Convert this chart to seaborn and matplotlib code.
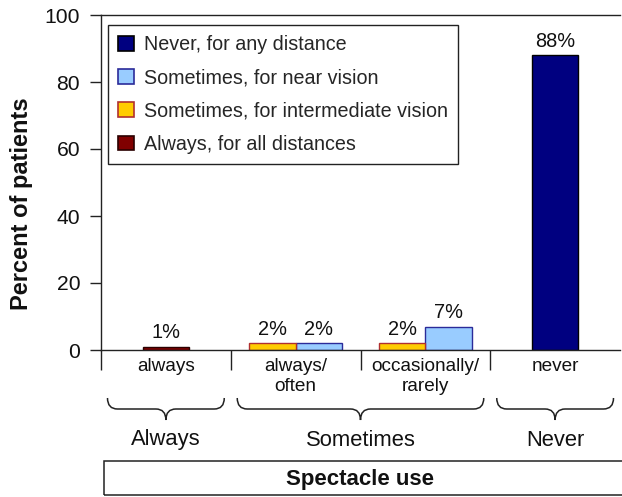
import matplotlib
matplotlib.use("Agg")
import matplotlib.pyplot as plt
import matplotlib.colors as mcolors
import pandas as pd
import seaborn as sns
from matplotlib.patches import Patch, Rectangle, PathPatch
from matplotlib.path import Path
from matplotlib.transforms import blended_transform_factory

# Spectacle-use categories on the x axis and their grouping
usage_levels = ["always", "always/\noften", "occasionally/\nrarely", "never"]
groups = ["Always", "Sometimes", "Never"]
group_members = [[0], [1, 2], [3]]

# Legend series (in legend order)
series_names = [
    "Never, for any distance",
    "Sometimes, for near vision",
    "Sometimes, for intermediate vision",
    "Always, for all distances",
]

# One entry per bar: usage level index, series index, percent of patients
bar_level = [0, 1, 1, 2, 2, 3]
bar_series = [3, 2, 1, 2, 1, 0]
bar_values = [1, 2, 2, 2, 7, 88]

sns.set_theme(style="ticks")
plt.rcParams["font.family"] = ["Liberation Sans", "DejaVu Sans"]

fill = ["#000080", "#99CCFF", "#FFCC00", "#800000"]
edge = ["#000000", "#2B2B99", "#B03030", "#2A0000"]
offset = [0.0, 0.18, -0.18, 0.0]
line_col = "#222222"

W, H = 622, 497
fig = plt.figure(figsize=(W / 100, H / 100), dpi=100)
ax = fig.add_axes([101 / W, 147 / H, 519 / W, 335 / H])

df = pd.DataFrame({
    "pos": [bar_level[i] + offset[s] for i, s in enumerate(bar_series)],
    "value": bar_values,
    "series": [series_names[s] for s in bar_series],
})

sns.barplot(data=df, x="pos", y="value", hue="series", hue_order=series_names,
            palette=fill, native_scale=True, dodge=False, width=1.0,
            saturation=1, errorbar=None, legend=False, ax=ax, linewidth=1.0)

hex_to_idx = {mcolors.to_hex(c): i for i, c in enumerate(fill)}
for p in ax.patches:
    idx = hex_to_idx.get(mcolors.to_hex(p.get_facecolor()))
    if idx is not None:
        p.set_edgecolor(edge[idx])
        p.set_linewidth(1.0)

# value labels above each bar
for pos, val in zip(df["pos"], df["value"]):
    ax.annotate(f"{val}%", (pos, val), xytext=(0, 3), textcoords="offset points",
                ha="center", va="bottom", fontsize=14.4, color="#111111")

ax.set_xlim(-0.5, 3.5)
ax.set_ylim(0, 100)
ax.set_yticks(range(0, 101, 20))
ax.set_xticks(range(len(usage_levels)))
ax.set_xticklabels(usage_levels, fontsize=13.7, linespacing=1.25)
ax.set_xticks([-0.5, 0.5, 1.5, 2.5], minor=True)
ax.tick_params(axis="x", which="major", length=0, pad=5.5, colors="#111111")
ax.tick_params(axis="x", which="minor", length=14.4, width=1.0, color=line_col)
ax.tick_params(axis="y", length=8, width=1.0, pad=7, labelsize=15.2,
               color=line_col, labelcolor="#111111")
ax.set_xlabel("")

for side in ["left", "bottom", "top"]:
    ax.spines[side].set_color(line_col)
    ax.spines[side].set_linewidth(1.0)
ax.spines["right"].set_visible(False)

ax.set_ylabel("Percent of patients", fontsize=17, fontweight="bold", va="center",
              color="#111111")
ax.yaxis.set_label_coords(-0.154, 0.436)

handles = [Patch(facecolor=fill[i], edgecolor=edge[i], linewidth=1.2, label=series_names[i])
           for i in range(len(series_names))]
leg = ax.legend(handles=handles, loc="upper left", bbox_to_anchor=(7 / 519, 325 / 335),
                borderaxespad=0, frameon=True, fancybox=False, edgecolor=line_col,
                framealpha=1, fontsize=14.2, handlelength=0.78, handleheight=0.78,
                handletextpad=0.5, labelspacing=0.72, borderpad=0.52)
leg.get_frame().set_linewidth(1.0)

# curly braces grouping the usage levels
trans = blended_transform_factory(ax.transData, fig.transFigure)


def fy(px):
    return 1 - px / H


r = 10 / 129.75
for name, members in zip(groups, group_members):
    x0 = min(members) - 0.45
    x1 = max(members) + 0.45
    xm = (min(members) + max(members)) / 2
    yt, ym, yb = fy(398), fy(409), fy(420)
    verts = [(x0, yt), (x0, ym), (x0 + r, ym), (xm - r, ym), (xm, ym), (xm, yb),
             (xm, ym), (xm + r, ym), (x1 - r, ym), (x1, ym), (x1, yt)]
    codes = [Path.MOVETO, Path.CURVE3, Path.CURVE3, Path.LINETO, Path.CURVE3, Path.CURVE3,
             Path.CURVE3, Path.CURVE3, Path.LINETO, Path.CURVE3, Path.CURVE3]
    fig.add_artist(PathPatch(Path(verts, codes), transform=trans, fill=False,
                             edgecolor=line_col, linewidth=1.1, clip_on=False))
    fig.text(xm, fy(440), name, transform=trans, ha="center", va="center",
             fontsize=15.8, color="#111111")

# axis title box
fig.add_artist(Rectangle((104 / W, fy(495)), (660 - 104) / W, 34 / H,
                         transform=fig.transFigure, fill=False, edgecolor=line_col,
                         linewidth=1.1, clip_on=False))
fig.text(1.5, fy(479), "Spectacle use", transform=trans, ha="center", va="center",
         fontsize=16, fontweight="bold", color="#111111")

fig.savefig("out.png", dpi=100)
